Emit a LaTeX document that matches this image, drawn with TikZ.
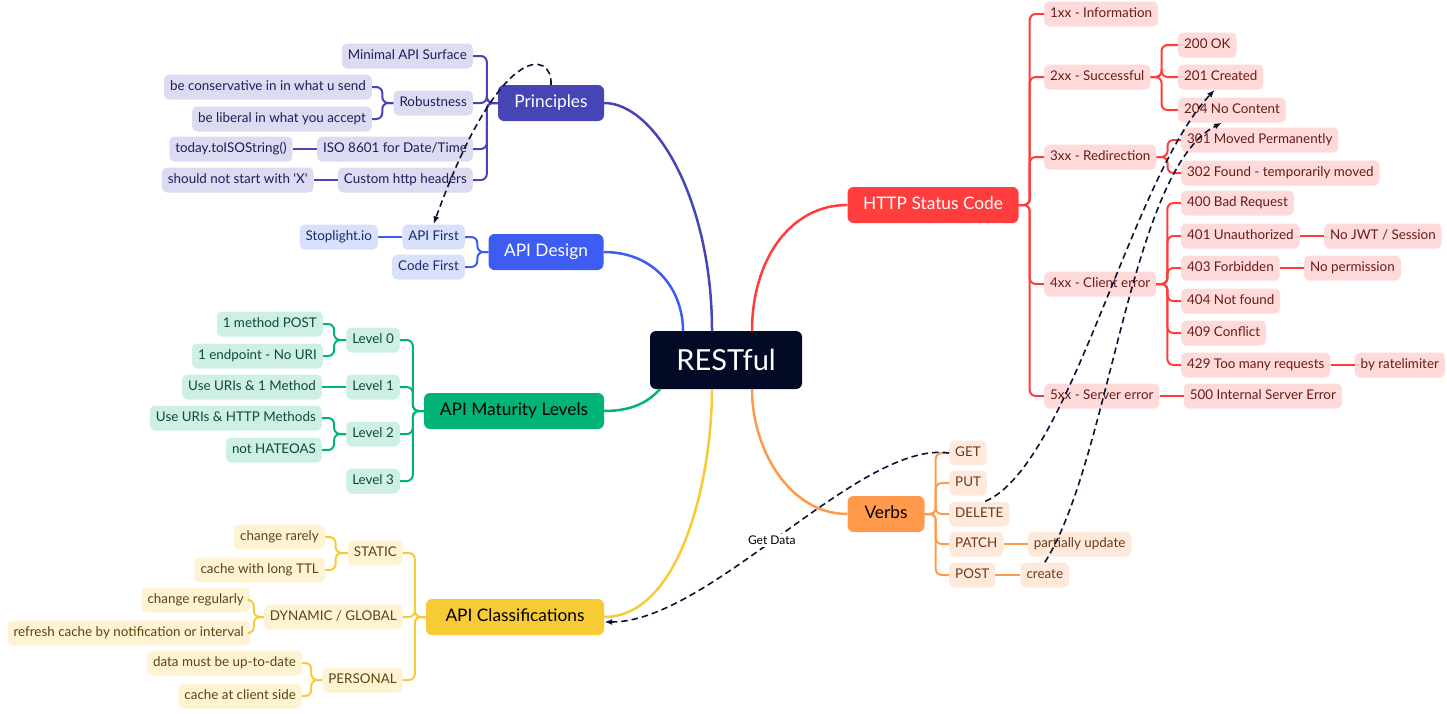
\documentclass[tikz,border=0pt]{standalone}
\usepackage{fontspec}
\setmainfont{Lato}
\usetikzlibrary{arrows.meta,positioning}
\definecolor{rootC}{HTML}{020A26}
\definecolor{dashC}{HTML}{0B1533}
\definecolor{prinC}{HTML}{4645B5}
\definecolor{prinL}{HTML}{DCDBF2}
\definecolor{prinT}{HTML}{1E1E5A}
\definecolor{desC}{HTML}{3D5CF1}
\definecolor{desL}{HTML}{D8E0FC}
\definecolor{desT}{HTML}{1A2A6A}
\definecolor{matC}{HTML}{00B377}
\definecolor{matL}{HTML}{CDF0E2}
\definecolor{matT}{HTML}{0F4A35}
\definecolor{clsC}{HTML}{F7CB35}
\definecolor{clsL}{HTML}{FEF3D2}
\definecolor{clsT}{HTML}{5A4515}
\definecolor{httpC}{HTML}{FF3D3D}
\definecolor{httpL}{HTML}{FFDADA}
\definecolor{httpT}{HTML}{6B1A1A}
\definecolor{verbC}{HTML}{FF9A4D}
\definecolor{verbL}{HTML}{FFE9DB}
\definecolor{verbT}{HTML}{6A3A1A}

\begin{document}
\begin{tikzpicture}[x=1pt,y=-1pt,
  leaf/.style={rounded corners=5pt, minimum height=25pt, inner xsep=6pt, inner ysep=0pt,
    text height=9.5pt, text depth=3pt, font=\fontsize{13.4}{15}\selectfont},
  topic/.style={rounded corners=6pt, minimum height=36pt, inner sep=0pt,
    text height=12.5pt, text depth=4pt, font=\fontsize{17.3}{19}\selectfont},
  pleaf/.style={leaf, fill=prinL, text=prinT},
  dleaf/.style={leaf, fill=desL, text=desT},
  mleaf/.style={leaf, fill=matL, text=matT},
  cleaf/.style={leaf, fill=clsL, text=clsT},
  hleaf/.style={leaf, fill=httpL, text=httpT},
  vleaf/.style={leaf, fill=verbL, text=verbT},
  bus/.style={line width=2pt, rounded corners=6pt},
  trunk/.style={line width=2.5pt},
  dashline/.style={dashC, line width=1.6pt, dash pattern=on 6.5pt off 4pt, -{Latex[length=8pt,width=6pt]}}]
\useasboundingbox (0,0) rectangle (1447,713);

% root
\node[fill=rootC, text=white, rounded corners=6pt, minimum width=152pt, minimum height=58pt,
  font=\fontsize{29}{31}\selectfont] (rest) at (726,360) {RESTful};

% Principles
\node[topic, fill=prinC, text=white, minimum width=106pt] (prin) at (551,103) {Principles};
\node[pleaf, anchor=east] (minapi) at (473,56) {Minimal API Surface};
\node[pleaf, anchor=east] (robust) at (473,103) {Robustness};
\node[pleaf, anchor=east] (conserv) at (372,87) {be conservative in in what u send};
\node[pleaf, anchor=east] (liberal) at (372,119) {be liberal in what you accept};
\node[pleaf, anchor=east] (iso) at (473,149) {ISO 8601 for Date/Time};
\node[pleaf, left=24pt of iso] (today) {today.toISOString()};
\node[pleaf, anchor=east] (custom) at (473,180) {Custom http headers};
\node[pleaf, left=24pt of custom] (nox) {should not start with \textquotesingle X\textquotesingle};
\foreach \c in {minapi,robust,iso,custom}
  \draw[bus, prinC] (prin.west) -- ++(-11,0) |- (\c.east);
\foreach \c in {conserv,liberal}
  \draw[bus, prinC] (robust.west) -- ++(-11,0) |- (\c.east);
\draw[bus, prinC] (iso) -- (today);
\draw[bus, prinC] (custom) -- (nox);

% API Design
\node[topic, fill=desC, text=white, minimum width=115pt] (design) at (546,252) {API Design};
\node[dleaf, anchor=east] (apifirst) at (465,237) {API First};
\node[dleaf, anchor=east] (codefirst) at (465,267) {Code First};
\node[dleaf, left=24pt of apifirst] (stoplight) {Stoplight.io};
\foreach \c in {apifirst,codefirst}
  \draw[bus, desC] (design.west) -- ++(-11,0) |- (\c.east);
\draw[bus, desC] (apifirst) -- (stoplight);

% API Maturity Levels
\node[topic, fill=matC, text=black, minimum width=180pt] (maturity) at (514,411) {API Maturity Levels};
\node[mleaf, anchor=east] (lvzero) at (400,340) {Level 0};
\node[mleaf, anchor=east] (lvone) at (400,387) {Level 1};
\node[mleaf, anchor=east] (lvtwo) at (400,434) {Level 2};
\node[mleaf, anchor=east] (lvthree) at (400,481) {Level 3};
\node[mleaf, anchor=east] (onepost) at (323,324) {1 method POST};
\node[mleaf, anchor=east] (oneend) at (323,356) {1 endpoint - No URI};
\node[mleaf, left=24pt of lvone] (urisone) {Use URIs \& 1 Method};
\node[mleaf, anchor=east] (urishttp) at (322,418) {Use URIs \& HTTP Methods};
\node[mleaf, anchor=east] (hateoas) at (322,450) {not HATEOAS};
\foreach \c in {lvzero,lvone,lvtwo,lvthree}
  \draw[bus, matC] (maturity.west) -- ++(-11,0) |- (\c.east);
\foreach \c in {onepost,oneend}
  \draw[bus, matC] (lvzero.west) -- ++(-12,0) |- (\c.east);
\foreach \c in {urishttp,hateoas}
  \draw[bus, matC] (lvtwo.west) -- ++(-12,0) |- (\c.east);
\draw[bus, matC] (lvone) -- (urisone);

% API Classifications
\node[topic, fill=clsC, text=black, minimum width=178pt] (classif) at (515,617) {API Classifications};
\node[cleaf, anchor=east] (static) at (403,553) {STATIC};
\node[cleaf, anchor=east] (dynamic) at (403,617) {DYNAMIC / GLOBAL};
\node[cleaf, anchor=east] (personal) at (403,680) {PERSONAL};
\node[cleaf, anchor=east] (rarely) at (325,537) {change rarely};
\node[cleaf, anchor=east] (longttl) at (325,570) {cache with long TTL};
\node[cleaf, anchor=east] (regular) at (250,600) {change regularly};
\node[cleaf, anchor=east] (refresh) at (250,633) {refresh cache by notification or interval};
\node[cleaf, anchor=east] (uptodate) at (302,663) {data must be up-to-date};
\node[cleaf, anchor=east] (client) at (302,696) {cache at client side};
\foreach \c in {static,dynamic,personal}
  \draw[bus, clsC] (classif.west) -- ++(-11,0) |- (\c.east);
\foreach \c in {rarely,longttl}
  \draw[bus, clsC] (static.west) -- ++(-12,0) |- (\c.east);
\foreach \c in {regular,refresh}
  \draw[bus, clsC] (dynamic.west) -- ++(-10,0) |- (\c.east);
\foreach \c in {uptodate,client}
  \draw[bus, clsC] (personal.west) -- ++(-11,0) |- (\c.east);

% HTTP Status Code
\node[topic, fill=httpC, text=white, minimum width=171pt] (http) at (933,205) {HTTP Status Code};
\node[hleaf, anchor=west] (sone) at (1044,14) {1xx - Information};
\node[hleaf, anchor=west] (stwo) at (1044,77) {2xx - Successful};
\node[hleaf, anchor=west] (sthree) at (1044,157) {3xx - Redirection};
\node[hleaf, anchor=west] (sfour) at (1044,284) {4xx - Client error};
\node[hleaf, anchor=west] (sfive) at (1044,396) {5xx - Server error};
\node[hleaf, anchor=west] (ctwohundred) at (1178,45) {200 OK};
\node[hleaf, anchor=west] (ccreated) at (1178,77) {201 Created};
\node[hleaf, anchor=west] (cnocontent) at (1178,110) {204 No Content};
\node[hleaf, anchor=west] (cmoved) at (1181,140) {301 Moved Permanently};
\node[hleaf, anchor=west] (cfound) at (1181,173) {302 Found - temporarily moved};
\node[hleaf, anchor=west] (cbad) at (1181,203) {400 Bad Request};
\node[hleaf, anchor=west] (cunauth) at (1181,236) {401 Unauthorized};
\node[hleaf, anchor=west] (cforbid) at (1181,268) {403 Forbidden};
\node[hleaf, anchor=west] (cnotfound) at (1181,301) {404 Not found};
\node[hleaf, anchor=west] (cconflict) at (1181,333) {409 Conflict};
\node[hleaf, anchor=west] (cmany) at (1181,365) {429 Too many requests};
\node[hleaf, right=24pt of cunauth] (nojwt) {No JWT / Session};
\node[hleaf, right=24pt of cforbid] (noperm) {No permission};
\node[hleaf, right=24pt of cmany] (ratelim) {by ratelimiter};
\node[hleaf, right=24pt of sfive] (cinternal) {500 Internal Server Error};
\foreach \c in {sone,stwo,sthree,sfour,sfive}
  \draw[bus, httpC] (http.east) -- ++(11,0) |- (\c.west);
\foreach \c in {ctwohundred,ccreated,cnocontent}
  \draw[bus, httpC] (stwo.east) -- ++(11,0) |- (\c.west);
\foreach \c in {cmoved,cfound}
  \draw[bus, httpC] (sthree.east) -- ++(11,0) |- (\c.west);
\foreach \c in {cbad,cunauth,cforbid,cnotfound,cconflict,cmany}
  \draw[bus, httpC] (sfour.east) -- ++(11,0) |- (\c.west);
\draw[bus, httpC] (cunauth) -- (nojwt);
\draw[bus, httpC] (cforbid) -- (noperm);
\draw[bus, httpC] (cmany) -- (ratelim);
\draw[bus, httpC] (sfive) -- (cinternal);

% Verbs
\node[topic, fill=verbC, text=black, minimum width=77pt] (verbs) at (886,514) {Verbs};
\node[vleaf, anchor=west] (vget) at (949,453) {GET};
\node[vleaf, anchor=west] (vput) at (949,483) {PUT};
\node[vleaf, anchor=west] (vdelete) at (949,514) {DELETE};
\node[vleaf, anchor=west] (vpatch) at (949,544) {PATCH};
\node[vleaf, anchor=west] (vpost) at (949,575) {POST};
\node[vleaf, right=24pt of vpatch] (partial) {partially update};
\node[vleaf, right=25pt of vpost] (create) {create};
\foreach \c in {vget,vput,vdelete,vpatch,vpost}
  \draw[bus, verbC] (verbs.east) -- ++(11,0) |- (\c.west);
\draw[bus, verbC] (vpatch) -- (partial);
\draw[bus, verbC] (vpost) -- (create);

% trunks from the root
\draw[trunk, prinC] (prin.east) .. controls (655,103) and (712,200) .. (712,331);
\draw[trunk, desC] (design.east) .. controls (655,252) and (683,290) .. (683,331);
\draw[trunk, matC] (maturity.east) .. controls (635,411) and (650,400) .. (660,389);
\draw[trunk, clsC] (classif.east) .. controls (680,617) and (712,480) .. (712,389);
\draw[trunk, httpC] (http.west) .. controls (790,205) and (752,260) .. (752,331);
\draw[trunk, verbC] (verbs.west) .. controls (790,514) and (752,450) .. (752,389);

% relations
\draw[dashline] (prin.north) .. controls (553,50) and (500,40) .. (apifirst.north);
\draw[dashline] (vget.west) .. controls (860,440) and (710,622) .. ([yshift=-5pt]classif.east)
  node[pos=0.53, fill=white, text=black, inner sep=2pt, font=\fontsize{12}{13}\selectfont] (getdata) {Get Data};
\draw[dashline] ([xshift=6pt]vdelete.north) .. controls (1070,465) and (1130,180) .. ([xshift=-6pt]ccreated.south);
\draw[dashline] (create.north) .. controls (1110,460) and (1130,170) .. ([xshift=-10pt]cnocontent.south);
\end{tikzpicture}
\end{document}
